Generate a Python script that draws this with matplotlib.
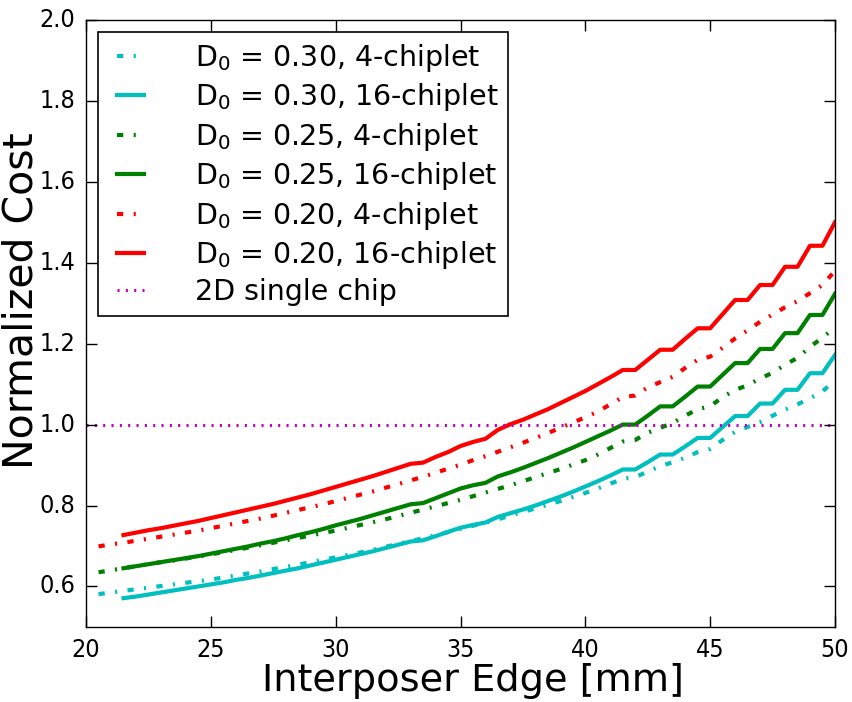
import numpy as np
import matplotlib
matplotlib.use("Agg")
import matplotlib.pyplot as plt
from matplotlib import font_manager

plt.style.use("classic")

# ---------------- data ----------------
x_4chip = np.arange(20.5, 50.01, 0.5)
x_16chip = np.arange(21.5, 50.01, 0.5)

cost_030_4 = [0.581, 0.585, 0.589, 0.593, 0.597, 0.601, 0.605, 0.609, 0.613, 0.617,
              0.622, 0.627, 0.632, 0.637, 0.643, 0.648, 0.654, 0.660, 0.666, 0.672,
              0.678, 0.684, 0.691, 0.698, 0.705, 0.712, 0.719, 0.727, 0.734, 0.742,
              0.750, 0.758, 0.766, 0.775, 0.784, 0.793, 0.802, 0.811, 0.821, 0.831,
              0.842, 0.854, 0.866, 0.870, 0.884, 0.897, 0.907, 0.918, 0.932, 0.940,
              0.962, 0.982, 0.994, 1.006, 1.022, 1.037, 1.050, 1.065, 1.082, 1.110]
cost_030_16 = [0.571, 0.575, 0.580, 0.585, 0.590, 0.595, 0.600, 0.605, 0.610, 0.616,
               0.621, 0.627, 0.633, 0.639, 0.645, 0.652, 0.659, 0.666, 0.673, 0.680,
               0.687, 0.695, 0.703, 0.711, 0.714, 0.724, 0.735, 0.745, 0.752, 0.758,
               0.772, 0.781, 0.790, 0.800, 0.811, 0.822, 0.834, 0.847, 0.860, 0.874,
               0.889, 0.889, 0.907, 0.926, 0.926, 0.946, 0.967, 0.967, 0.994, 1.021,
               1.021, 1.052, 1.052, 1.086, 1.086, 1.127, 1.127, 1.172]
cost_025_4 = [0.635, 0.640, 0.645, 0.650, 0.655, 0.660, 0.664, 0.669, 0.674, 0.679,
              0.685, 0.690, 0.696, 0.702, 0.708, 0.714, 0.720, 0.726, 0.732, 0.738,
              0.745, 0.752, 0.759, 0.766, 0.774, 0.782, 0.790, 0.798, 0.806, 0.814,
              0.823, 0.832, 0.841, 0.850, 0.860, 0.870, 0.880, 0.890, 0.901, 0.912,
              0.926, 0.942, 0.958, 0.962, 0.980, 0.992, 1.004, 1.022, 1.038, 1.045,
              1.068, 1.086, 1.097, 1.114, 1.128, 1.148, 1.165, 1.192, 1.215, 1.240]
cost_025_16 = [0.645, 0.650, 0.655, 0.660, 0.665, 0.670, 0.675, 0.681, 0.687, 0.693,
               0.699, 0.706, 0.712, 0.719, 0.727, 0.734, 0.742, 0.751, 0.759, 0.767,
               0.776, 0.785, 0.794, 0.803, 0.806, 0.818, 0.830, 0.842, 0.850, 0.856,
               0.872, 0.882, 0.893, 0.905, 0.917, 0.930, 0.943, 0.957, 0.971, 0.985,
               1.000, 1.000, 1.022, 1.045, 1.045, 1.069, 1.094, 1.094, 1.123, 1.152,
               1.152, 1.187, 1.187, 1.226, 1.226, 1.271, 1.271, 1.323]
cost_020_4 = [0.699, 0.704, 0.708, 0.713, 0.718, 0.723, 0.728, 0.733, 0.738, 0.744,
              0.750, 0.756, 0.762, 0.768, 0.775, 0.782, 0.789, 0.796, 0.803, 0.811,
              0.819, 0.827, 0.835, 0.844, 0.853, 0.862, 0.871, 0.881, 0.891, 0.901,
              0.912, 0.922, 0.933, 0.944, 0.955, 0.967, 0.979, 0.992, 1.005, 1.018,
              1.032, 1.050, 1.068, 1.072, 1.092, 1.105, 1.118, 1.140, 1.160, 1.168,
              1.190, 1.213, 1.233, 1.254, 1.272, 1.290, 1.305, 1.325, 1.345, 1.380]
cost_020_16 = [0.727, 0.733, 0.739, 0.744, 0.750, 0.756, 0.762, 0.769, 0.776, 0.783,
               0.790, 0.797, 0.804, 0.812, 0.820, 0.828, 0.837, 0.846, 0.855, 0.864,
               0.873, 0.883, 0.893, 0.903, 0.906, 0.920, 0.932, 0.947, 0.957, 0.965,
               0.987, 1.001, 1.012, 1.025, 1.038, 1.053, 1.068, 1.083, 1.100, 1.117,
               1.135, 1.135, 1.160, 1.185, 1.185, 1.212, 1.238, 1.238, 1.273, 1.308,
               1.308, 1.345, 1.345, 1.390, 1.390, 1.442, 1.442, 1.500]
single_chip_cost = 1.0

labels = ["D$_0$ = 0.30, 4-chiplet", "D$_0$ = 0.30, 16-chiplet",
          "D$_0$ = 0.25, 4-chiplet", "D$_0$ = 0.25, 16-chiplet",
          "D$_0$ = 0.20, 4-chiplet", "D$_0$ = 0.20, 16-chiplet",
          "2D single chip"]

# -------------- fonts -----------------
def pick_condensed():
    names = {f.name for f in font_manager.fontManager.ttflist}
    for f in font_manager.fontManager.ttflist:
        if f.name == "DejaVu Sans" and str(f.stretch) in ("condensed", "semi-condensed"):
            return dict(family="DejaVu Sans", stretch="condensed")
    if "Liberation Sans Narrow" in names:
        return dict(family="Liberation Sans Narrow", stretch="normal")
    return dict(family="DejaVu Sans", stretch="normal")

cond = pick_condensed()
plt.rcParams["mathtext.default"] = "regular"

fig = plt.figure(figsize=(8.52, 7.02), dpi=100, facecolor="white")
ax = fig.add_axes([0.101, 0.107, 0.879, 0.8645])

lw = 3
dd = (4.5, 7.5, 1.5, 7.5)
series = [
    (x_4chip, cost_030_4, "c", True),
    (x_16chip, cost_030_16, "c", False),
    (x_4chip, cost_025_4, "g", True),
    (x_16chip, cost_025_16, "g", False),
    (x_4chip, cost_020_4, "r", True),
    (x_16chip, cost_020_16, "r", False),
]
for (xs, ys, col, dashed), lab in zip(series, labels):
    if dashed:
        ax.plot(xs, ys, color=col, lw=lw, linestyle=(0, dd), label=lab,
                dash_capstyle="butt")
    else:
        ax.plot(xs, ys, color=col, lw=lw, linestyle="-", label=lab)
ax.axhline(single_chip_cost, color="m", lw=2.2, linestyle=(0, (1.5, 4.5)),
           label=labels[-1])

ax.set_xlim(20, 50)
ax.set_ylim(0.5, 2.0)
ax.set_xticks([20, 25, 30, 35, 40, 45, 50])
ax.set_yticks([0.6, 0.8, 1.0, 1.2, 1.4, 1.6, 1.8, 2.0])
ax.tick_params(direction="in", length=8, width=1, top=True, right=True, pad=8)
for t in ax.get_xticklabels() + ax.get_yticklabels():
    t.set_fontfamily(cond["family"])
    t.set_fontstretch(cond["stretch"])
    t.set_fontsize(18)

ax.set_xlabel("Interposer Edge [mm]", fontsize=27.5, family="DejaVu Sans")
ax.xaxis.set_label_coords(0.517, -0.06)
ax.set_ylabel("Normalized Cost", fontsize=29.5, family="DejaVu Sans")
ax.yaxis.set_label_coords(-0.059, 0.538)

leg = ax.legend(loc="upper left", fontsize=20.5, frameon=True, fancybox=False,
                handlelength=1.55, labelspacing=0.26, borderaxespad=0.42,
                borderpad=0.35, handletextpad=1.5)
leg.get_frame().set_edgecolor("black")
leg.get_frame().set_linewidth(1.2)

fig.savefig("out.png", dpi=100, facecolor="white")
